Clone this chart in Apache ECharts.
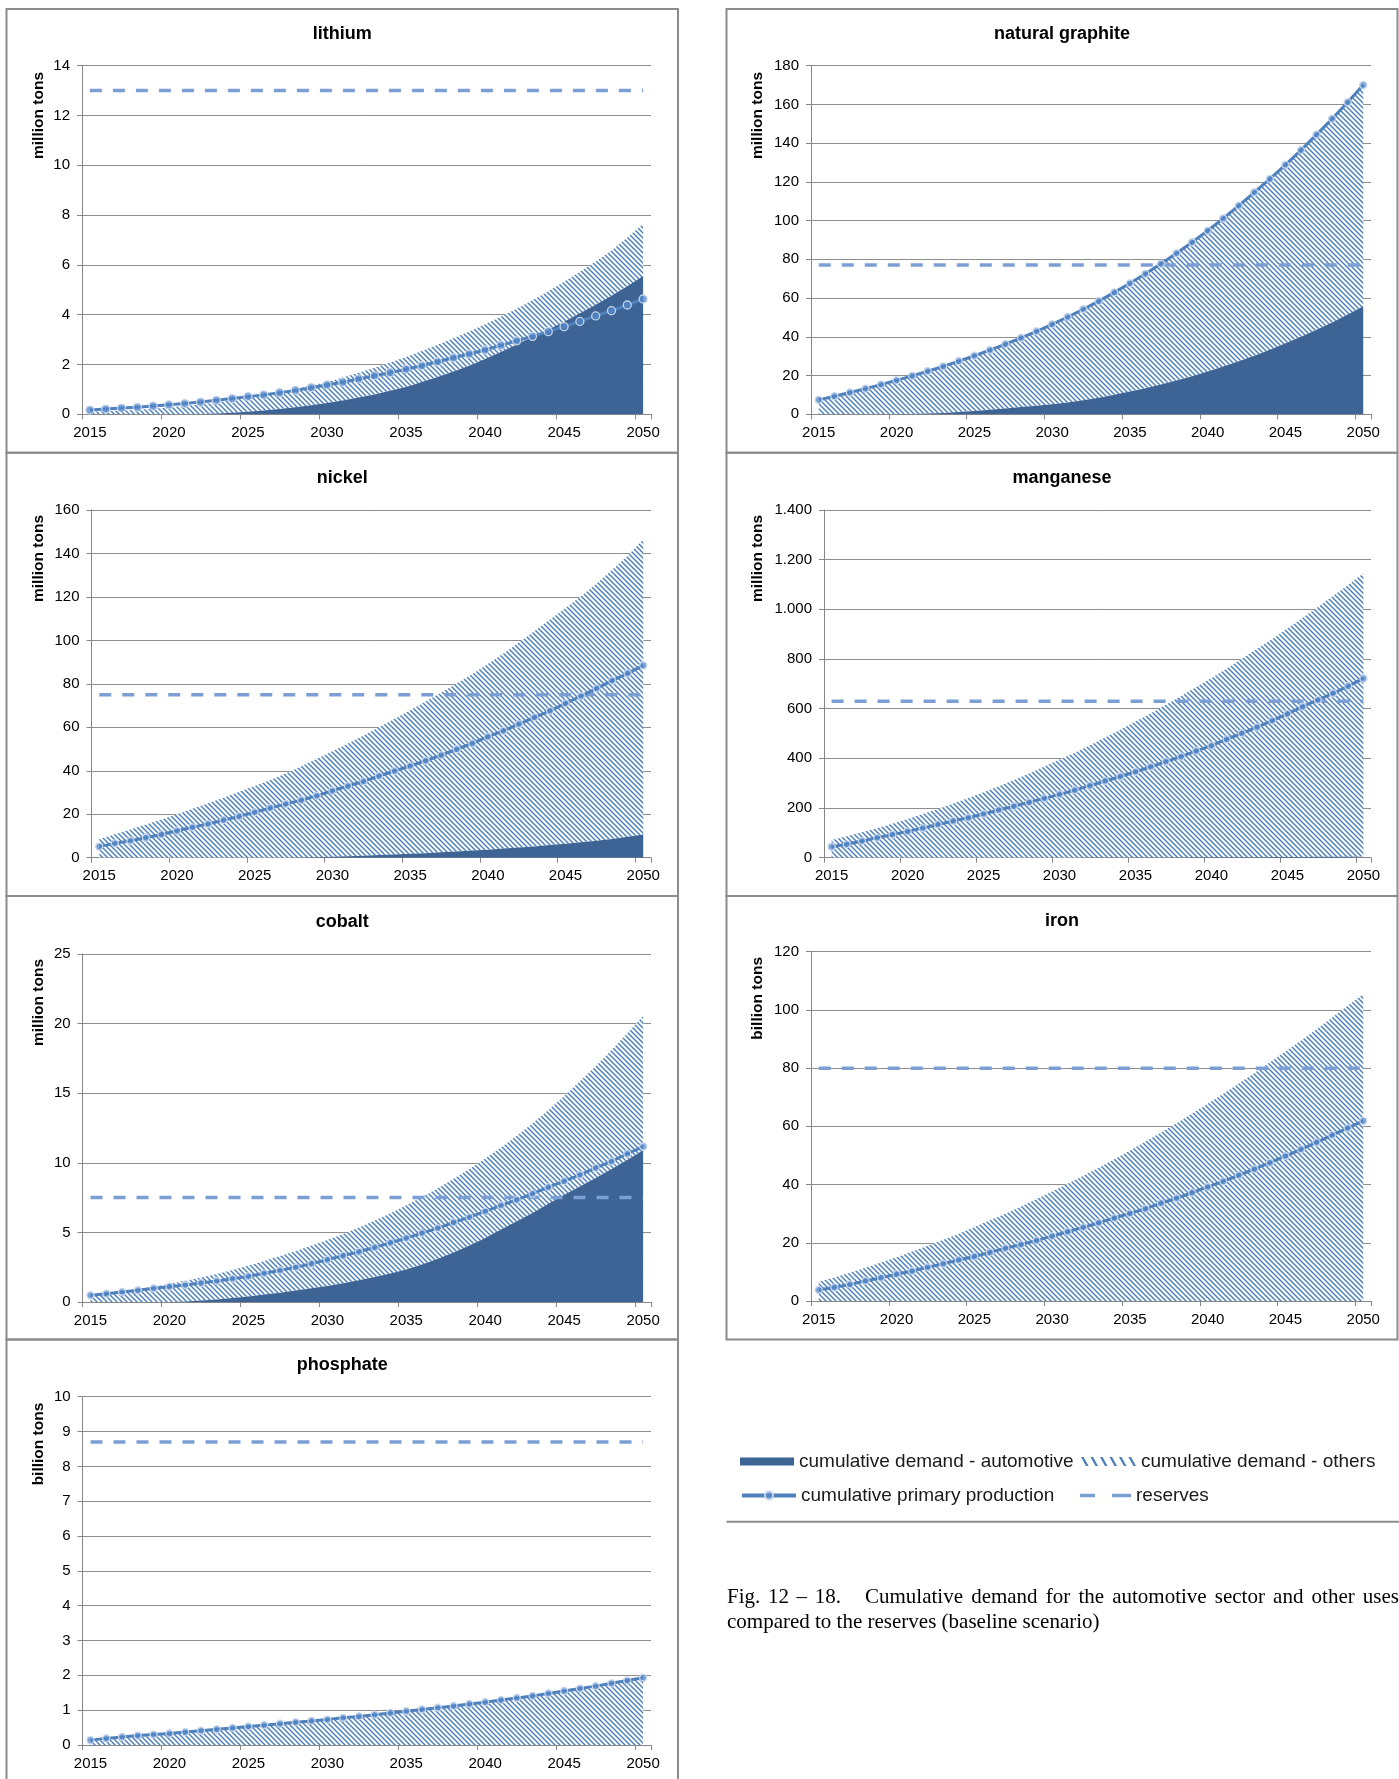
<!DOCTYPE html>
<html>
<head>
<meta charset="utf-8">
<script src="https://cdn.jsdelivr.net/npm/echarts@6/dist/echarts.min.js"></script>
<style>
html,body{margin:0;padding:0;background:#fff;}
#chart{width:1399px;height:1779px;}
</style>
</head>
<body>
<div id="chart"></div>
<script>
// ---------------- DATA ----------------
const years = ['2015','2016','2017','2018','2019','2020','2021','2022','2023','2024','2025','2026','2027','2028','2029','2030','2031','2032','2033','2034','2035','2036','2037','2038','2039','2040','2041','2042','2043','2044','2045','2046','2047','2048','2049','2050'];

// lithium (million tons)
const lithiumProduction = [0.17,0.21,0.25,0.28,0.33,0.38,0.43,0.49,0.56,0.63,0.71,0.78,0.87,0.96,1.07,1.18,1.29,1.42,1.55,1.67,1.81,1.95,2.11,2.27,2.42,2.58,2.77,2.95,3.13,3.32,3.52,3.73,3.95,4.16,4.39,4.63];
const lithiumDemandTotal = [0.1,0.12,0.15,0.18,0.22,0.27,0.33,0.4,0.47,0.56,0.66,0.77,0.89,1.02,1.16,1.3,1.48,1.67,1.87,2.08,2.3,2.54,2.79,3.05,3.33,3.62,3.92,4.24,4.58,4.94,5.32,5.72,6.14,6.58,7.1,7.65];
const lithiumAutomotive = [0,0,0,0,0,0,0,0.01,0.03,0.06,0.1,0.15,0.21,0.28,0.36,0.45,0.55,0.67,0.8,0.95,1.1,1.3,1.5,1.72,1.95,2.22,2.5,2.8,3.1,3.4,3.72,4.06,4.4,4.76,5.14,5.55];
const lithiumReserves = 13;

// natural graphite (million tons)
const graphiteProduction = [7.4,9.3,11.2,13.2,15.3,17.5,19.8,22.2,24.7,27.4,30.2,33.1,36.2,39.4,42.8,46.4,50.2,54.2,58.4,62.9,67.6,72.5,77.7,83.1,88.8,94.8,101.1,107.7,114.6,121.5,128.8,136.4,144.4,152.6,161.1,170.0];
const graphiteDemandTotal = [6.8,8.9,10.9,12.9,15.0,17.2,19.5,21.9,24.4,27.1,29.9,32.8,35.9,39.1,42.5,46.1,49.9,53.9,58.1,62.6,67.3,72.2,77.4,82.8,88.5,94.5,100.8,107.4,114.3,121.2,128.5,136.1,144.1,152.3,160.8,169.7];
const graphiteAutomotive = [0,0,0,0,0,0,0.1,0.3,0.6,1.1,1.7,2.3,3.0,3.7,4.4,5.2,6.1,7.2,8.5,10.0,11.7,13.4,15.3,17.4,19.6,22.0,24.6,27.3,30.2,33.3,36.6,40.0,43.6,47.4,51.5,55.8];
const graphiteReserves = 77;

// nickel (million tons)
const nickelProduction = [5.1,6.6,7.8,9.2,10.7,12.4,14.0,15.5,17.3,19.0,20.9,22.9,24.7,26.5,28.5,30.8,33.0,35.1,37.6,39.9,42.2,44.6,47.2,49.9,52.6,55.7,58.4,61.5,64.6,67.6,71.0,74.4,77.9,81.5,84.8,88.5];
const nickelDemandTotal = [8.6,10.8,13.0,15.3,17.6,20.0,22.5,25.0,27.6,30.3,33.0,35.8,38.8,42.1,45.5,49.0,52.5,56.2,60.0,63.9,67.9,71.9,76.0,80.2,84.5,89.1,94.0,99.0,104.3,109.6,114.9,120.3,126.2,132.5,139.0,146.5];
const nickelAutomotive = [0,0,0,0,0,0,0,0,0,0,0,0,0,0.05,0.2,0.4,0.65,0.9,1.2,1.5,1.8,2.1,2.5,2.9,3.3,3.7,4.2,4.7,5.2,5.8,6.4,7.1,7.8,8.6,9.6,10.7];
const nickelReserves = 75;

// manganese (million tons)
const manganeseProduction = [44,54,67,80,93,106,119,134,148,161,176,192,207,223,239,255,272,290,309,327,346,366,387,407,430,451,477,501,526,552,579,608,635,662,691,722];
const manganeseDemandTotal = [71,86,102,119,137,156,176,196,218,240,264,288,313,339,367,395,423,453,484,515,548,581,616,651,687,724,762,801,841,881,923,966,1009,1054,1099,1145];
const manganeseAutomotive = [0,0,0,0,0,0,0,0,0,0,0,0,0,0,0,0.2,0.3,0.4,0.5,0.6,0.8,0.9,1.1,1.3,1.5,1.7,1.9,2.1,2.3,2.6,2.8,3.1,3.4,3.7,4.0,4.4];
const manganeseReserves = 630;

// cobalt (million tons)
const cobaltProduction = [0.48,0.6,0.72,0.84,0.98,1.1,1.22,1.36,1.51,1.67,1.84,2.06,2.27,2.49,2.75,3.04,3.33,3.61,3.92,4.26,4.59,4.95,5.31,5.72,6.1,6.51,6.94,7.34,7.78,8.25,8.68,9.14,9.64,10.1,10.65,11.17];
const cobaltDemandTotal = [0.45,0.6,0.75,0.92,1.1,1.3,1.52,1.76,2.02,2.3,2.62,2.95,3.3,3.67,4.05,4.45,4.88,5.35,5.85,6.38,6.95,7.55,8.18,8.85,9.55,10.3,11.1,11.95,12.85,13.8,14.8,15.85,16.95,18.1,19.3,20.55];
const cobaltAutomotive = [0,0,0,0,0,0,0.03,0.1,0.18,0.28,0.4,0.53,0.67,0.82,0.98,1.15,1.35,1.57,1.8,2.05,2.33,2.7,3.1,3.55,4.05,4.6,5.2,5.8,6.4,7.05,7.7,8.3,8.9,9.55,10.2,10.9];
const cobaltReserves = 7.5;

// iron (billion tons)
const ironProduction = [3.8,4.7,5.7,6.9,8.0,9.2,10.3,11.6,12.8,14.1,15.3,16.7,18.1,19.4,20.8,22.3,23.8,25.3,26.9,28.5,30.1,31.7,33.6,35.3,37.2,39.2,41.1,43.2,45.3,47.5,49.8,52.1,54.5,57.0,59.4,61.9];
const ironDemandTotal = [6.6,8.1,9.7,11.4,13.2,15.0,17.0,19.0,21.0,23.1,25.4,27.7,30.0,32.5,35.0,37.6,40.3,43.0,45.8,48.7,51.7,54.8,57.9,61.1,64.4,67.8,71.2,74.7,78.3,82.0,85.7,89.5,93.4,97.4,101.4,105.5];
const ironReserves = 80;

// phosphate (billion tons)
const phosphateProduction = [0.14,0.19,0.23,0.27,0.3,0.33,0.37,0.41,0.45,0.49,0.53,0.57,0.61,0.65,0.69,0.73,0.78,0.82,0.87,0.92,0.97,1.02,1.07,1.12,1.18,1.23,1.29,1.35,1.41,1.48,1.55,1.62,1.69,1.77,1.85,1.93];
const phosphateDemandTotal = [0.1,0.15,0.19,0.23,0.27,0.3,0.34,0.38,0.42,0.46,0.5,0.54,0.58,0.62,0.66,0.7,0.75,0.79,0.84,0.89,0.94,0.99,1.04,1.09,1.15,1.2,1.26,1.32,1.38,1.45,1.52,1.59,1.66,1.74,1.82,1.9];
const phosphateReserves = 8.7;

const seriesNames = ['cumulative demand - automotive','cumulative demand - others','cumulative primary production','reserves'];
const captionLead = ['Fig.', '12', '\u2013', '18.'];
const captionLine1 = ['Cumulative', 'demand', 'for', 'the', 'automotive', 'sector', 'and', 'other', 'uses'];
const captionLine2 = 'compared to the reserves (baseline scenario)';

// ---------------- STYLE / LAYOUT ----------------
const DARK = '#3d6494', HATCH = '#4a7ebb', LINE = '#4f81bd', RES = '#7b9fd5';
const AXISC = '#868686', GRIDC = '#8e8e8e', BORDER = '#8c8c8c';
const SANS = '"Liberation Sans", Arial, sans-serif';
const SERIF = '"Liberation Serif", "Times New Roman", serif';
const CAPFONT = '21px ' + SERIF;

const panels = [
  {title:'lithium', unit:'million tons', prod:lithiumProduction, total:lithiumDemandTotal, auto:lithiumAutomotive, reserve:lithiumReserves, max:14, step:2},
  {title:'natural graphite', unit:'million tons', prod:graphiteProduction, total:graphiteDemandTotal, auto:graphiteAutomotive, reserve:graphiteReserves, max:180, step:20},
  {title:'nickel', unit:'million tons', prod:nickelProduction, total:nickelDemandTotal, auto:nickelAutomotive, reserve:nickelReserves, max:160, step:20},
  {title:'manganese', unit:'million tons', prod:manganeseProduction, total:manganeseDemandTotal, auto:manganeseAutomotive, reserve:manganeseReserves, max:1400, step:200},
  {title:'cobalt', unit:'million tons', prod:cobaltProduction, total:cobaltDemandTotal, auto:cobaltAutomotive, reserve:cobaltReserves, max:25, step:5},
  {title:'iron', unit:'billion tons', prod:ironProduction, total:ironDemandTotal, auto:null, reserve:ironReserves, max:120, step:20},
  {title:'phosphate', unit:'billion tons', prod:phosphateProduction, total:phosphateDemandTotal, auto:null, reserve:phosphateReserves, max:10, step:1}
];

const frames = [
  {box:[6.5, 9, 671.5, 443.7],   grid:[82, 65.7, 569, 348.6],    titleY:34,    nameX:39,    nameY:72},
  {box:[726.5, 9, 671, 443.7],   grid:[811, 65.7, 560, 348.5],   titleY:34,    nameX:757.7, nameY:72},
  {box:[6.5, 452.7, 671.5, 443.3], grid:[91.5, 510, 559.5, 347.7], titleY:478,   nameX:39,    nameY:515},
  {box:[726.5, 452.7, 671, 443.3], grid:[824, 510, 547, 347.7],  titleY:478,   nameX:757.7, nameY:515},
  {box:[6.5, 896, 671.5, 443.5], grid:[82.6, 954, 568.4, 348],   titleY:922,   nameX:39,    nameY:959},
  {box:[726.5, 896, 671, 443.5], grid:[811, 951.7, 560, 349.3],  titleY:920.7, nameX:757.7, nameY:957},
  {box:[6.5, 1339.5, 671.5, 460], grid:[82.6, 1396.7, 568.4, 348.3], titleY:1365, nameX:39, nameY:1402.7}
];

function makeHatchCanvas(){
  const s = 10, c = document.createElement('canvas');
  c.width = s; c.height = s;
  const g = c.getContext('2d');
  g.fillStyle = '#ffffff'; g.fillRect(0,0,s,s);
  g.strokeStyle = HATCH; g.lineWidth = 1.45;
  for (let k = -2; k <= 2; k++) {
    g.beginPath(); g.moveTo(k*5 - 2, -2); g.lineTo(k*5 + s + 2, s + 2); g.stroke();
  }
  return c;
}
const hatchFill = {image: makeHatchCanvas(), repeat: 'repeat'};

function hatchIconPath(){
  let d = 'path://';
  for (let k = 0; k < 6; k++) {
    const x0 = k*9.5;
    d += 'M'+x0+',0L'+(x0+2.6)+',0L'+(x0+7.6)+',9L'+(x0+5)+',9Z';
  }
  return d;
}
const dashIconPath = 'path://M0,0L15,0L15,3.6L0,3.6Z M32,0L51,0L51,3.6L32,3.6Z';

function thousandFmt(v){
  if (v >= 1000) { const r = String(v % 1000); return Math.floor(v/1000) + '.' + ('000'+r).slice(-3); }
  return String(v);
}

const measureCtx = document.createElement('canvas').getContext('2d');
function textWidth(font, s){ measureCtx.font = font; return measureCtx.measureText(s).width; }

// ---------------- OPTION ----------------
const grids = [], xAxes = [], yAxes = [], series = [], graphics = [];

function txt(x, y, text, font, align){
  return {type:'text', x:x, y:y, z:10,
    style:{text:text, font:font, fill:'#000', align:align, verticalAlign:'middle', textAlign:align, textVerticalAlign:'middle'}};
}
function justifyWords(words, x0, x1, y, font){
  const w = words.map(s => textWidth(font, s));
  const sum = w.reduce((a,b) => a + b, 0);
  const gap = (x1 - x0 - sum) / (words.length - 1);
  let x = x0;
  words.forEach((s, k) => { graphics.push(txt(x, y, s, font, 'left')); x += w[k] + gap; });
}

panels.forEach((p, i) => {
  const f = frames[i];
  grids.push({left:f.grid[0], top:f.grid[1], width:f.grid[2], height:f.grid[3], containLabel:false, outerBoundsMode:'none'});
  xAxes.push({
    type:'category', gridIndex:i, data:years, boundaryGap:true,
    axisLine:{show:true, lineStyle:{color:AXISC, width:1}},
    axisTick:{show:true, interval:4, length:5, lineStyle:{color:AXISC}},
    axisLabel:{interval:4, margin:11, color:'#000', fontSize:15, fontFamily:SANS},
    splitLine:{show:false}
  });
  yAxes.push({
    type:'value', gridIndex:i, min:0, max:p.max, interval:p.step,
    axisLine:{show:true, lineStyle:{color:AXISC, width:1}},
    axisTick:{show:true, length:5, lineStyle:{color:AXISC}},
    axisLabel:{margin:12, color:'#000', fontSize:15, fontFamily:SANS, formatter: p.max >= 1000 ? thousandFmt : null},
    splitLine:{show:true, lineStyle:{color:GRIDC, width:1}}
  });

  const autoData = p.auto || years.map(() => 0);
  if (p.auto) {
    series.push({
      name:seriesNames[0], type:'line', xAxisIndex:i, yAxisIndex:i, stack:'demand'+i,
      data:p.auto, symbol:'none', showSymbol:false, lineStyle:{width:0},
      areaStyle:{color:DARK, opacity:1}, z:3, silent:true
    });
  }
  series.push({
    name:seriesNames[1], type:'line', xAxisIndex:i, yAxisIndex:i, stack:'demand'+i,
    data:p.total.map((v,k) => Math.round((v - autoData[k])*1000)/1000),
    symbol:'none', showSymbol:false, lineStyle:{width:0},
    areaStyle:{color:hatchFill, opacity:1}, z:2, silent:true
  });
  series.push({
    name:seriesNames[3], type:'line', xAxisIndex:i, yAxisIndex:i,
    data:[[years[0], p.reserve], [years[years.length-1], p.reserve]],
    symbol:'none', showSymbol:false,
    lineStyle:{color:RES, width:3.5, type:[12,11], cap:'butt'}, itemStyle:{color:RES}, z:4, silent:true
  });
  series.push({
    name:seriesNames[2], type:'line', xAxisIndex:i, yAxisIndex:i,
    data:p.prod, symbol:'circle', symbolSize: i === 0 ? 8 : 7, showSymbol:true,
    lineStyle:{color:LINE, width:3},
    itemStyle:{color:'rgba(82,134,200,0.75)', borderColor:'#c3d4eb', borderWidth:1.3},
    z:5, silent:true
  });

  graphics.push({type:'rect', shape:{x:f.box[0], y:f.box[1], width:f.box[2], height:f.box[3]},
    style:{fill:'none', stroke:BORDER, lineWidth:2}, silent:true, z:0});
  graphics.push(txt(f.box[0] + f.box[2]/2, f.titleY, p.title, 'bold 18px ' + SANS, 'center'));
  const nameEl = txt(f.nameX, f.nameY, p.unit, 'bold 15.5px ' + SANS, 'right');
  nameEl.rotation = Math.PI/2;
  graphics.push(nameEl);
});

// legend separator
graphics.push({type:'line', shape:{x1:726.5, y1:1521.7, x2:1399, y2:1521.7}, style:{stroke:BORDER, lineWidth:2}, z:0});
// caption (justified first line)
justifyWords(captionLead, 727, 841, 1597, CAPFONT);
justifyWords(captionLine1, 865, 1399, 1597, CAPFONT);
graphics.push(txt(727, 1622.5, captionLine2, CAPFONT, 'left'));

const legendText = {fontSize:19, color:'#1a1a1a', fontFamily:SANS};
const legends = [
  {data:[{name:seriesNames[0], icon:'rect', itemStyle:{color:DARK, borderWidth:0}}], left:740, top:1452, itemWidth:54, itemHeight:8},
  {data:[{name:seriesNames[1], icon:hatchIconPath(), itemStyle:{color:HATCH, borderWidth:0}}], left:1081, top:1452, itemWidth:55, itemHeight:9},
  {data:[{name:seriesNames[2], lineStyle:{width:4, color:LINE}}], left:740, top:1486, itemWidth:54, itemHeight:10},
  {data:[{name:seriesNames[3], icon:dashIconPath, itemStyle:{color:RES, borderWidth:0}}], left:1080, top:1486, itemWidth:51, itemHeight:3.6}
].map(l => Object.assign({orient:'horizontal', padding:0, itemGap:0, selectedMode:false, textStyle:legendText}, l));

const option = {
  animation:false,
  backgroundColor:'#ffffff',
  grid:grids, xAxis:xAxes, yAxis:yAxes, series:series,
  legend:legends,
  graphic:{elements:graphics}
};

const chart = echarts.init(document.getElementById('chart'), null, {renderer:'canvas', width:1399, height:1779});
chart.setOption(option);
</script>
</body>
</html>
